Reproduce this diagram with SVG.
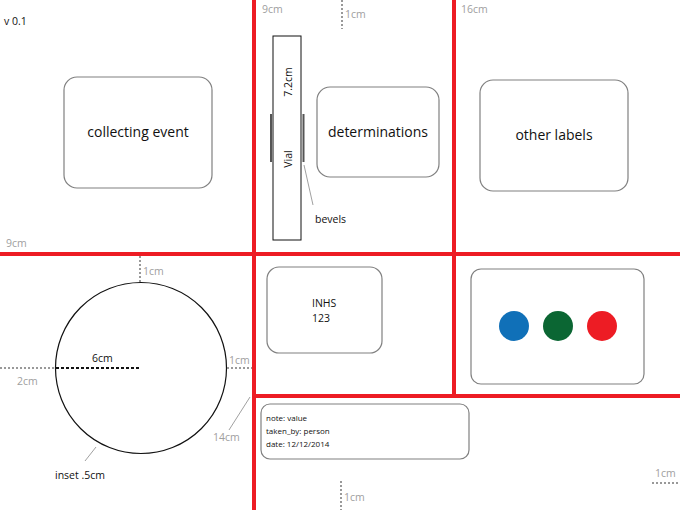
<svg xmlns="http://www.w3.org/2000/svg" width="680" height="510" viewBox="0 0 680 510">
<style>
text{font-family:"Open Sans","Liberation Sans",sans-serif}
.red{stroke:#ED1C24;stroke-width:4;fill:none}
.box{fill:#fff;stroke:#808080;stroke-width:1.2}
.lbl{font-size:14px;fill:#111;text-anchor:middle}
.dim{font-size:10.5px;fill:#a0a0a0}
.gd{stroke:#999;stroke-width:2;stroke-dasharray:2,2;fill:none}
.lead{stroke:#888;stroke-width:0.8;fill:none}
.sm{font-size:10.5px;fill:#111}
.tiny{font-size:8px;fill:#111}
</style>
<rect width="680" height="510" fill="#fff"/>
<g id="grid">
<line class="red" x1="0" y1="254" x2="680" y2="254"/>
<line class="red" x1="254" y1="396" x2="680" y2="396"/>
<line class="red" x1="254" y1="0" x2="254" y2="510"/>
<line class="red" x1="454" y1="0" x2="454" y2="396"/>
</g>
<text x="4" y="25" class="sm">v 0.1</text>
<text x="6" y="247" class="dim">9cm</text>
<text x="262" y="13" class="dim">9cm</text>
<text x="461" y="13" class="dim">16cm</text>
<g id="collecting-event">
<rect class="box" x="64" y="77" width="148" height="111" rx="13"/>
<text x="138" y="137" class="lbl">collecting event</text>
</g>
<g id="vial">
<rect x="273" y="36" width="28" height="204" fill="#fff" stroke="#111" stroke-width="1"/>
<text transform="translate(292,82) rotate(-90)" class="sm" text-anchor="middle">7.2cm</text>
<text transform="translate(292,159) rotate(-90)" class="sm" text-anchor="middle">Vial</text>
<line x1="271" y1="114" x2="271" y2="162" stroke="#555" stroke-width="2"/>
<line x1="303.5" y1="114" x2="303.5" y2="162" stroke="#555" stroke-width="2"/>
<text x="315" y="223" class="sm">bevels</text>
</g>
<g id="determinations">
<rect class="box" x="317" y="87" width="122" height="90" rx="13"/>
<text x="378" y="137" class="lbl">determinations</text>
</g>
<g id="other-labels">
<rect class="box" x="480" y="80" width="148" height="111" rx="13"/>
<text x="554" y="140" class="lbl">other labels</text>
</g>
<g id="inset-circle">
<circle cx="141" cy="368" r="85.5" fill="none" stroke="#111" stroke-width="1.2"/>
<line x1="56" y1="368" x2="141" y2="368" stroke="#111" stroke-width="2" stroke-dasharray="3,2"/>
<text x="92" y="362" class="sm">6cm</text>
<text x="55" y="479" class="sm">inset .5cm</text>
</g>
<g id="inhs">
<rect class="box" x="267" y="267" width="115" height="86" rx="12"/>
<text x="312" y="307" class="sm">INHS</text>
<text x="312" y="322" class="sm">123</text>
</g>
<g id="colors">
<rect class="box" x="471" y="269" width="173" height="115" rx="10"/>
<circle cx="514" cy="326" r="15" fill="#1070B8"/>
<circle cx="558" cy="326" r="15" fill="#0B6633"/>
<circle cx="602" cy="326" r="15" fill="#ED1C24"/>
</g>
<g id="notes">
<rect class="box" x="261" y="404" width="208" height="55" rx="9"/>
<text x="266" y="421" class="tiny">note: value</text>
<text x="266" y="434" class="tiny">taken_by: person</text>
<text x="266" y="447" class="tiny">date: 12/12/2014</text>
</g>
<g id="dimensions">
<line class="gd" x1="342" y1="0" x2="342" y2="29"/>
<text x="345" y="18" class="dim">1cm</text>
<line class="gd" x1="140" y1="256" x2="140" y2="283"/>
<text x="143" y="275" class="dim">1cm</text>
<line class="gd" x1="0" y1="368" x2="56" y2="368"/>
<text x="17" y="385" class="dim">2cm</text>
<line class="gd" x1="227" y1="368" x2="252" y2="368"/>
<text x="229" y="364" class="dim">1cm</text>
<text x="213" y="441" class="dim">14cm</text>
<line class="gd" x1="341" y1="481" x2="341" y2="510"/>
<text x="344" y="501" class="dim">1cm</text>
<line class="gd" x1="652" y1="483" x2="680" y2="483"/>
<text x="655" y="477" class="dim">1cm</text>
</g>
<g id="connectors">
<line class="lead" x1="304" y1="165" x2="313" y2="205"/>
<line class="lead" x1="250" y1="397" x2="229" y2="430"/>
<line class="lead" x1="96" y1="447" x2="85" y2="461"/>
</g>
</svg>
